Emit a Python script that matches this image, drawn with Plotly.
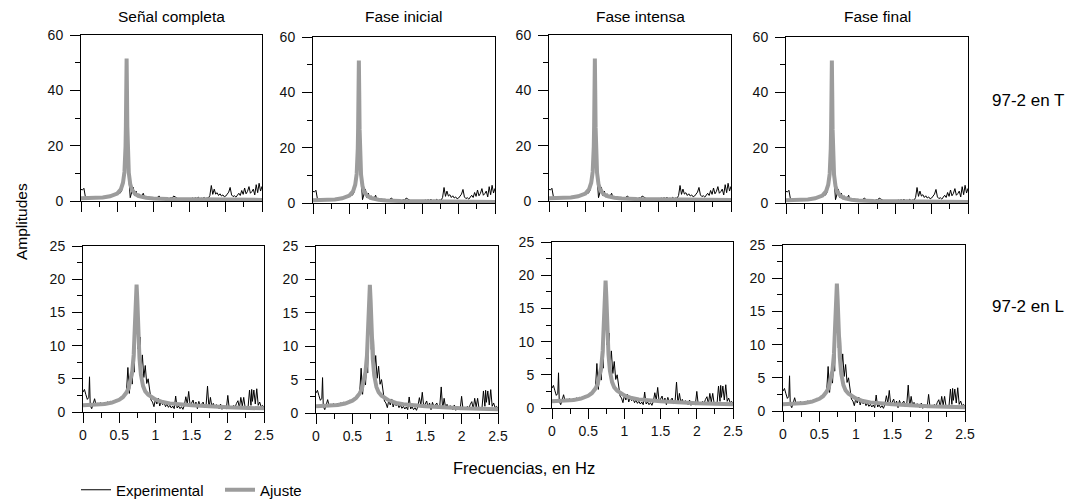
import plotly.graph_objects as go

# column titles and row labels
col_titles = ["Señal completa", "Fase inicial", "Fase intensa", "Fase final"]
row_labels = ["97-2 en T", "97-2 en L"]

# --- direction T (top row), experimental spectrum
exp_T_f = [0.00, 0.02, 0.04, 0.06, 0.08, 0.10, 0.12, 0.14, 0.16, 0.18, 0.20, 0.22, 0.24, 0.26, 0.28,
           0.30, 0.32, 0.34, 0.36, 0.38, 0.40, 0.42, 0.44, 0.46, 0.48, 0.50, 0.52, 0.54, 0.56, 0.58,
           0.60, 0.62, 0.63, 0.64, 0.66, 0.68, 0.70, 0.72, 0.74, 0.76, 0.78, 0.80, 0.82, 0.84, 0.86,
           0.88, 0.90, 0.92, 0.94, 0.96, 0.98, 1.00, 1.02, 1.04, 1.06, 1.08, 1.10, 1.12, 1.14, 1.16,
           1.18, 1.20, 1.22, 1.24, 1.26, 1.28, 1.30, 1.32, 1.34, 1.36, 1.38, 1.40, 1.42, 1.44, 1.46,
           1.48, 1.50, 1.52, 1.54, 1.56, 1.58, 1.60, 1.62, 1.64, 1.66, 1.68, 1.70, 1.72, 1.74, 1.76,
           1.78, 1.80, 1.82, 1.84, 1.86, 1.88, 1.90, 1.92, 1.94, 1.96, 1.98, 2.00, 2.02, 2.04, 2.06,
           2.08, 2.10, 2.12, 2.14, 2.16, 2.18, 2.20, 2.22, 2.24, 2.26, 2.28, 2.30, 2.32, 2.34, 2.36,
           2.38, 2.40, 2.42, 2.44, 2.46, 2.48, 2.50]
exp_T_a = [4.2, 4.0, 4.6, 1.6, 1.3, 1.1, 1.4, 1.2, 1.0, 1.3, 1.2, 1.4, 1.3, 1.5, 1.4,
           1.6, 1.5, 1.7, 1.8, 1.6, 2.0, 1.9, 2.2, 2.1, 2.6, 2.4, 3.0, 2.8, 3.6, 6.5,
           11.0, 28.0, 51.0, 27.0, 9.0, 1.2, 3.0, 5.0, 1.8, 3.6, 1.4, 2.6, 1.3, 1.8, 2.8,
           1.1, 1.6, 1.0, 1.4, 1.1, 1.3, 1.0, 1.2, 0.9, 1.5, 1.8, 1.0, 1.2, 0.8, 1.1,
           0.9, 1.0, 0.8, 1.2, 1.0, 1.8, 1.5, 1.0, 0.8, 0.9, 0.7, 0.8, 0.7, 0.6, 0.8,
           0.7, 0.9, 0.7, 1.1, 0.8, 1.2, 0.9, 1.4, 0.8, 1.0, 0.9, 1.3, 0.8, 1.1, 1.0,
           2.0, 5.6, 2.4, 4.3, 2.5, 3.0, 2.0, 2.6, 1.8, 2.2, 1.5, 1.8, 2.5, 3.2, 4.9,
           2.2, 1.6, 1.9, 1.4, 2.2, 2.8, 2.0, 3.8, 2.4, 4.7, 2.6, 3.5, 5.2, 2.8, 3.4,
           4.3, 2.2, 5.9, 3.0, 6.4, 3.6, 5.3]

# direction T, fitted curve
fit_T_f = [0.0, 0.1, 0.2, 0.3, 0.4, 0.45, 0.5, 0.55, 0.58, 0.6, 0.61, 0.615, 0.62, 0.625, 0.63,
           0.635, 0.64, 0.645, 0.65, 0.655, 0.66, 0.68, 0.7, 0.75, 0.8, 0.9, 1.0, 1.2, 1.5, 2.0, 2.5]
fit_T_a = [1.0, 1.03, 1.11, 1.29, 1.68, 2.04, 2.7, 4.2, 6.6, 10.5, 15.3, 19.7, 27.2, 40.0, 51.5,
           40.0, 26.7, 19.4, 14.7, 12.2, 10.2, 6.1, 4.3, 2.5, 1.8, 1.2, 0.9, 0.7, 0.55, 0.45, 0.4]

# --- direction L (bottom row), experimental spectrum
exp_L_f = [0.00, 0.02, 0.04, 0.06, 0.08, 0.09, 0.10, 0.12, 0.14, 0.16, 0.18, 0.20, 0.22, 0.24, 0.26,
           0.28, 0.30, 0.32, 0.34, 0.36, 0.38, 0.40, 0.42, 0.44, 0.46, 0.48, 0.50, 0.52, 0.54, 0.56,
           0.58, 0.60, 0.62, 0.64, 0.66, 0.68, 0.70, 0.71, 0.72, 0.73, 0.74, 0.75, 0.76, 0.77, 0.78,
           0.79, 0.80, 0.82, 0.84, 0.86, 0.88, 0.90, 0.92, 0.94, 0.96, 0.98, 1.00, 1.02, 1.04, 1.06,
           1.08, 1.10, 1.12, 1.14, 1.16, 1.18, 1.20, 1.22, 1.24, 1.26, 1.28, 1.30, 1.32, 1.34, 1.36,
           1.38, 1.40, 1.42, 1.44, 1.46, 1.48, 1.50, 1.52, 1.54, 1.56, 1.58, 1.60, 1.62, 1.64, 1.66,
           1.68, 1.70, 1.72, 1.74, 1.76, 1.78, 1.80, 1.82, 1.84, 1.86, 1.88, 1.90, 1.92, 1.94, 1.96,
           1.98, 2.00, 2.02, 2.04, 2.06, 2.08, 2.10, 2.12, 2.14, 2.16, 2.18, 2.20, 2.22, 2.24, 2.26,
           2.28, 2.30, 2.32, 2.33, 2.34, 2.36, 2.38, 2.40, 2.42, 2.44, 2.46, 2.48, 2.50]
exp_L_a = [3.0, 3.4, 2.6, 1.9, 2.2, 5.3, 1.0, 0.5, 1.2, 2.0, 1.1, 1.3, 1.0, 1.4, 1.2,
           1.3, 1.4, 1.3, 1.5, 1.4, 1.6, 1.5, 1.7, 1.6, 1.9, 1.8, 2.0, 2.2, 2.0, 2.6,
           2.4, 3.0, 6.7, 2.8, 5.6, 4.2, 8.5, 6.0, 13.0, 16.5, 18.0, 15.0, 9.5, 12.0, 8.5,
           11.3, 6.0, 8.6, 5.2, 7.0, 4.3, 5.0, 3.0, 1.8, 1.5, 0.8, 1.9, 1.2, 2.1, 0.9,
           1.6, 1.1, 1.4, 0.8, 1.2, 0.7, 1.0, 0.6, 0.9, 0.5, 2.4, 0.6, 0.9, 0.5, 0.8,
           0.4, 1.0, 2.3, 1.2, 3.1, 0.9, 1.4, 1.8, 0.8, 1.5, 0.5, 1.6, 0.9, 1.2, 1.5,
           0.6, 1.0, 3.9, 0.6, 2.2, 0.8, 1.3, 0.6, 1.1, 0.9, 0.5, 1.2, 0.4, 0.8, 0.6,
           0.5, 2.5, 0.5, 0.8, 0.6, 1.0, 0.7, 1.3, 1.7, 0.6, 2.2, 0.9, 2.2, 0.6, 0.8,
           0.7, 3.3, 1.0, 3.4, 1.6, 3.3, 1.2, 3.5, 1.0, 1.5, 0.8, 1.0, 0.7]

# direction L, fitted curve
fit_L_f = [0.0, 0.1, 0.2, 0.3, 0.4, 0.5, 0.55, 0.6, 0.63, 0.66, 0.68, 0.70, 0.71, 0.72, 0.73,
           0.74, 0.75, 0.76, 0.77, 0.78, 0.80, 0.83, 0.86, 0.9, 1.0, 1.1, 1.2, 1.5, 2.0, 2.5]
fit_L_a = [1.0, 1.02, 1.08, 1.2, 1.41, 1.84, 2.23, 2.92, 3.6, 4.8, 6.1, 8.6, 10.6, 13.6, 17.2,
           19.2, 16.9, 13.1, 10.1, 8.1, 5.6, 3.9, 3.1, 2.6, 1.9, 1.5, 1.3, 1.0, 0.7, 0.55]

# ticks
x_ticks = [0, 0.5, 1, 1.5, 2, 2.5]
x_tick_text = ["0", "0.5", "1", "1.5", "2", "2.5"]
y_ticks_T = [0, 20, 40, 60]
y_ticks_L = [0, 5, 10, 15, 20, 25]

# panel boxes in pixels (left, right, top, bottom) on a 1079 x 504 canvas
W, H = 1079, 504
boxes = [
    [(81, 262, 35, 201), (313, 495, 37, 203), (549, 731, 35, 201), (786, 968, 37, 203)],
    [(83, 264, 246, 412), (316, 498, 246, 413), (552, 733, 242, 408), (783, 965, 245, 411)],
]

FONT = "Liberation Sans, Arial, sans-serif"
BLACK = "#000000"
GREY = "#9c9c9c"

fig = go.Figure()
layout = {}

rows = [(exp_T_f, exp_T_a, fit_T_f, fit_T_a, y_ticks_T, 10),
        (exp_L_f, exp_L_a, fit_L_f, fit_L_a, y_ticks_L, 2.5)]

n = 0
for r, (ef, ea, ff, fa, yt, yminor) in enumerate(rows):
    for c in range(4):
        n += 1
        sfx = "" if n == 1 else str(n)
        fig.add_trace(go.Scatter(x=ef, y=ea, mode="lines", name="Experimental",
                                 line=dict(color=BLACK, width=1),
                                 xaxis="x" + sfx, yaxis="y" + sfx,
                                 showlegend=(n == 1), legendrank=1))
        fig.add_trace(go.Scatter(x=ff, y=fa, mode="lines", name="Ajuste",
                                 line=dict(color=GREY, width=4),
                                 xaxis="x" + sfx, yaxis="y" + sfx,
                                 showlegend=(n == 1), legendrank=2))
        left, right, top, bottom = boxes[r][c]
        layout["xaxis" + sfx] = dict(
            domain=[left / W, right / W], anchor="y" + sfx, range=[0, 2.5],
            tickmode="array", tickvals=x_ticks, ticktext=x_tick_text,
            showticklabels=(r == 1), ticks="outside", ticklen=10, tickwidth=1,
            tickcolor=BLACK, showline=True, linecolor=BLACK, linewidth=1, mirror=True,
            showgrid=False, zeroline=False,
            tickfont=dict(family=FONT, size=14, color="#111111"),
            minor=dict(tick0=0, dtick=0.25, ticks="outside", ticklen=5,
                       tickcolor=BLACK, showgrid=False),
        )
        layout["yaxis" + sfx] = dict(
            domain=[1 - bottom / H, 1 - top / H], anchor="x" + sfx,
            range=[0, yt[-1]], tickmode="array", tickvals=yt,
            ticks="outside", ticklen=10, tickwidth=1, tickcolor=BLACK,
            ticklabelstandoff=4,
            showline=True, linecolor=BLACK, linewidth=1, mirror=True,
            showgrid=False, zeroline=False,
            tickfont=dict(family=FONT, size=14, color="#111111"),
            minor=dict(tick0=0, dtick=yminor, ticks="outside", ticklen=5,
                       tickcolor=BLACK, showgrid=False),
        )


def label(text, px, py, size, angle=0, xanchor="center"):
    return dict(text=text, x=px / W, y=1 - py / H, xref="paper", yref="paper",
                xanchor=xanchor, yanchor="middle", textangle=angle, showarrow=False,
                font=dict(family=FONT, size=size, color=BLACK))


annotations = []
for c, t in enumerate(col_titles):
    left, right, top, bottom = boxes[0][c]
    annotations.append(label(t, (left + right) / 2, 17, 15.5))
annotations.append(label(row_labels[0], 990, 101, 17, xanchor="left"))
annotations.append(label(row_labels[1], 990, 306, 17, xanchor="left"))
annotations.append(label("Amplitudes", 21, 222, 15.5, angle=-90))
annotations.append(label("Frecuencias, en Hz", 524, 468, 16.5))

fig.update_layout(
    **layout,
    width=W, height=H,
    margin=dict(l=0, r=0, t=0, b=0, autoexpand=False),
    paper_bgcolor="white", plot_bgcolor="white",
    annotations=annotations,
    showlegend=True,
    legend=dict(orientation="h", x=76 / W, y=1 - 490 / H, xanchor="left", yanchor="middle",
                font=dict(family=FONT, size=15, color=BLACK), itemwidth=30,
                entrywidth=99, entrywidthmode="pixels",
                bgcolor="rgba(0,0,0,0)", tracegroupgap=0),
)

fig.write_html("out.html", config={"displayModeBar": False},
               post_script="document.body.style.margin='0';")
